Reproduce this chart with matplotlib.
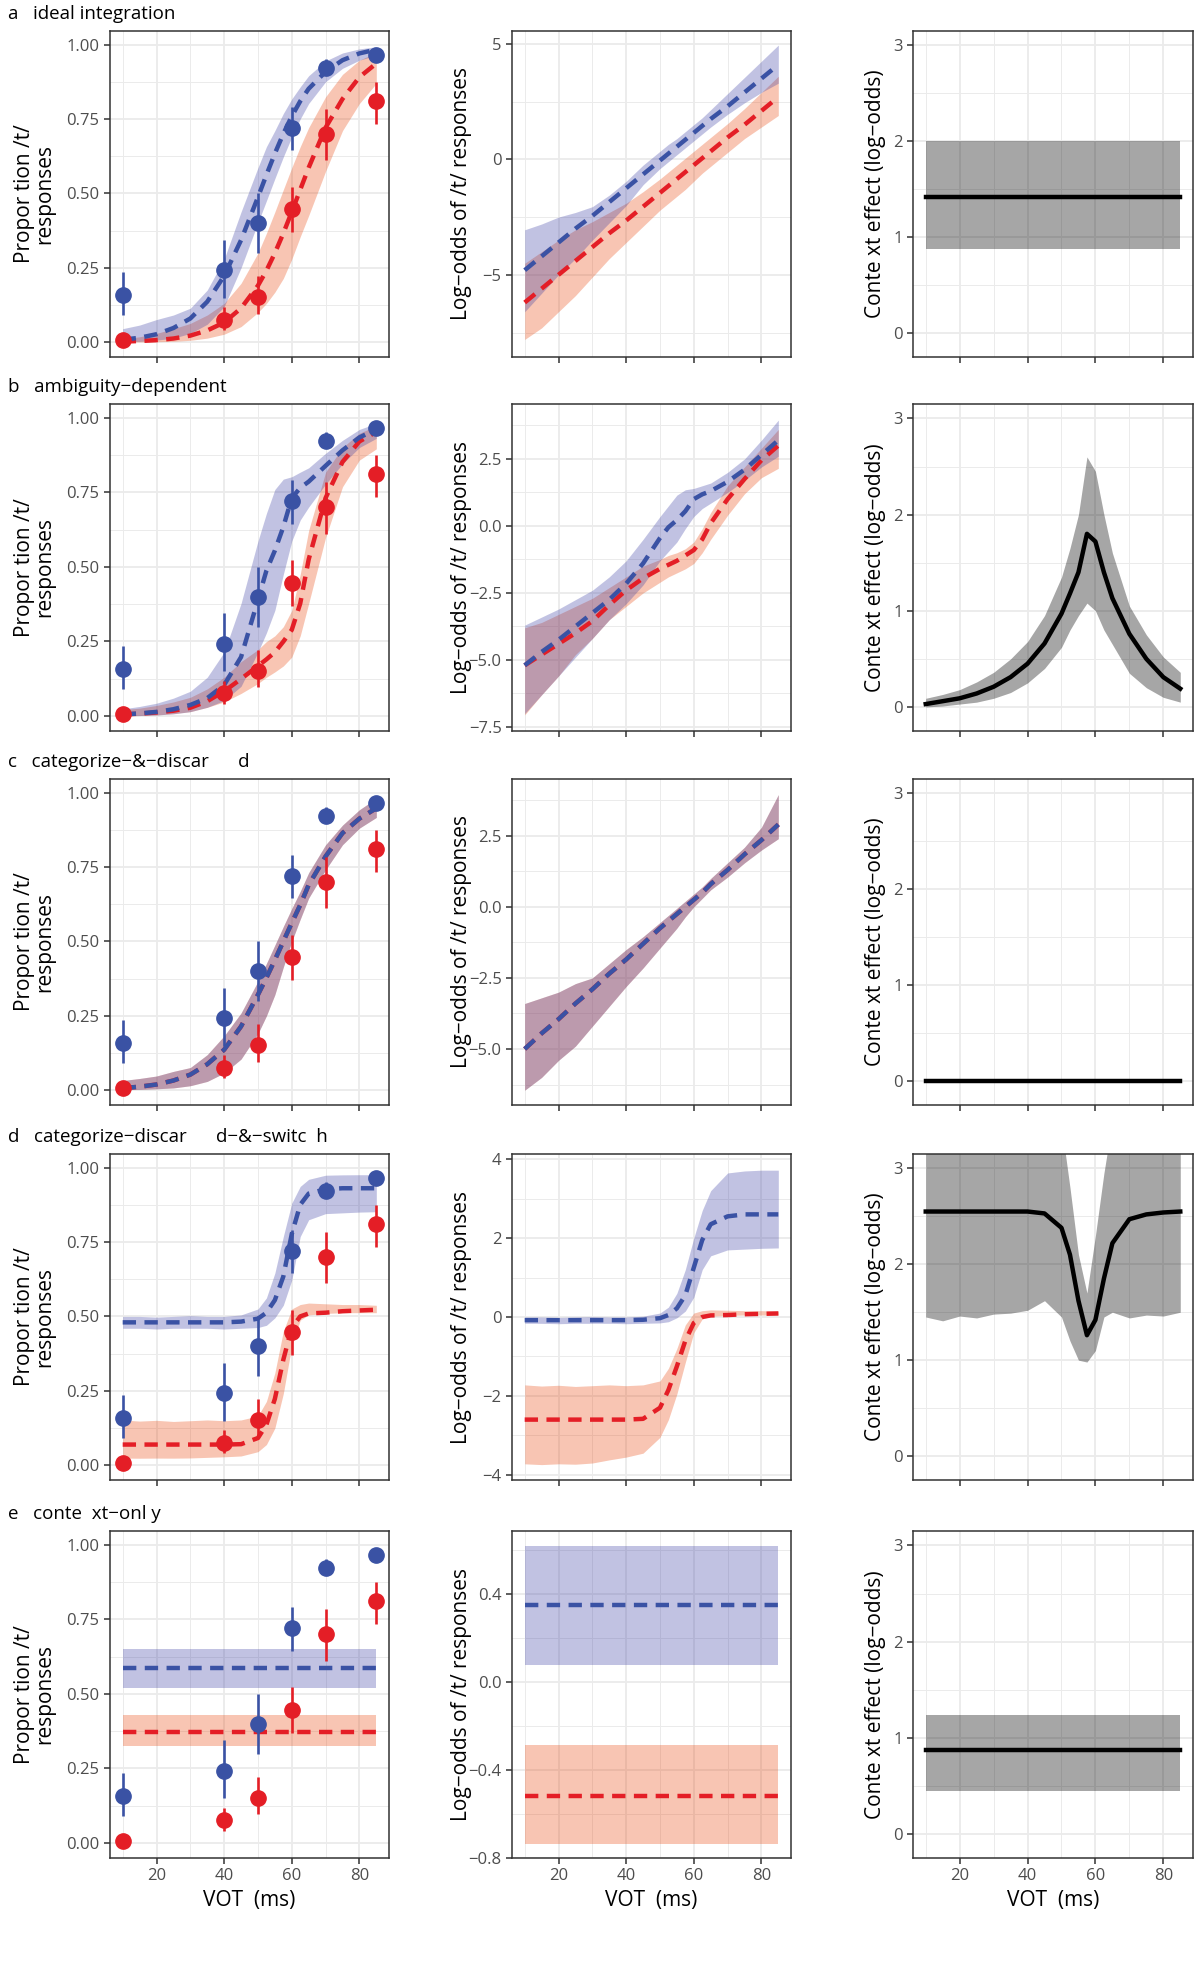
import numpy as np
import matplotlib.pyplot as plt
from matplotlib.ticker import AutoMinorLocator

plt.rcParams['font.family'] = ['Open Sans', 'DejaVu Sans']

# observed proportions of /t/ responses (same in every row)
obs_vot = [10, 40, 50, 60, 70, 85]
obs_blue = [0.158, 0.242, 0.40, 0.72, 0.922, 0.964]
obs_blue_lo = [0.091, 0.15, 0.30, 0.645, 0.897, 0.95]
obs_blue_hi = [0.236, 0.345, 0.50, 0.79, 0.953, 0.975]
obs_red = [0.007, 0.076, 0.152, 0.446, 0.70, 0.81]
obs_red_lo = [0.0, 0.04, 0.096, 0.37, 0.611, 0.735]
obs_red_hi = [0.014, 0.119, 0.222, 0.522, 0.785, 0.875]

vot_fine = [10, 15, 20, 25, 30, 35, 40, 45, 50, 52.5, 55, 57.5, 60, 62.5, 65, 70, 75, 80, 85]
vot_flat = [10, 85]

# a: ideal integration (log-odds)
a_blue = [-4.8, -4.2, -3.6, -3.0, -2.45, -1.85, -1.25, -0.65, -0.05, 0.25, 0.55, 0.85, 1.15, 1.45, 1.75, 2.3, 2.9, 3.5, 4.1]
a_blue_lo = [-6.6, -5.8, -5.0, -4.3, -3.5, -2.75, -2.0, -1.1, -0.4, -0.1, 0.2, 0.5, 0.8, 1.1, 1.4, 1.95, 2.45, 2.9, 3.3]
a_blue_hi = [-3.05, -2.8, -2.5, -2.3, -2.05, -1.55, -0.95, -0.25, 0.35, 0.65, 0.9, 1.2, 1.5, 1.8, 2.15, 2.85, 3.55, 4.25, 4.95]
a_red = [-6.2, -5.6, -5.0, -4.4, -3.8, -3.2, -2.65, -2.05, -1.45, -1.15, -0.85, -0.55, -0.25, 0.05, 0.35, 0.95, 1.5, 2.1, 2.7]
a_red_lo = [-7.8, -7.3, -6.6, -5.9, -5.1, -4.3, -3.6, -2.9, -2.2, -1.9, -1.6, -1.3, -0.95, -0.6, -0.3, 0.3, 0.9, 1.4, 1.9]
a_red_hi = [-4.5, -4.0, -3.5, -3.05, -2.7, -2.3, -1.9, -1.4, -0.85, -0.55, -0.25, 0.05, 0.35, 0.65, 0.95, 1.55, 2.2, 2.9, 3.6]
a_ctx = [1.42, 1.42]
a_ctx_lo = [0.88, 0.88]
a_ctx_hi = [2.0, 2.0]

# b: ambiguity-dependent
b_blue = [-5.2, -4.7, -4.25, -3.75, -3.25, -2.75, -2.15, -1.4, -0.45, -0.05, 0.22, 0.55, 1.0, 1.18, 1.3, 1.65, 2.1, 2.65, 3.2]
b_blue_lo = [-7.0, -6.3, -5.6, -4.9, -4.2, -3.5, -2.9, -2.2, -1.3, -0.95, -0.6, -0.1, 0.35, 0.65, 0.85, 1.25, 1.7, 2.2, 2.6]
b_blue_hi = [-3.7, -3.4, -3.1, -2.75, -2.4, -1.9, -1.3, -0.5, 0.35, 0.75, 1.15, 1.35, 1.4, 1.5, 1.6, 2.0, 2.5, 3.2, 3.95]
b_red = [-5.2, -4.8, -4.4, -4.0, -3.55, -2.95, -2.4, -1.95, -1.6, -1.45, -1.3, -1.1, -0.9, -0.5, 0.1, 1.0, 1.75, 2.45, 3.0]
b_red_lo = [-7.05, -6.3, -5.6, -4.8, -4.2, -3.5, -3.0, -2.5, -2.1, -1.9, -1.75, -1.6, -1.4, -1.0, -0.5, 0.4, 1.2, 1.8, 2.15]
b_red_hi = [-3.8, -3.6, -3.3, -3.0, -2.7, -2.3, -1.9, -1.5, -1.25, -1.1, -1.0, -0.85, -0.6, -0.1, 0.5, 1.5, 2.2, 2.9, 3.6]
b_ctx = [0.03, 0.06, 0.09, 0.14, 0.21, 0.31, 0.45, 0.66, 0.97, 1.18, 1.40, 1.80, 1.72, 1.40, 1.13, 0.76, 0.50, 0.31, 0.19]
b_ctx_lo = [0.0, 0.01, 0.03, 0.05, 0.09, 0.15, 0.25, 0.4, 0.62, 0.8, 0.95, 1.08, 1.0, 0.8, 0.65, 0.35, 0.2, 0.1, 0.05]
b_ctx_hi = [0.09, 0.13, 0.18, 0.26, 0.36, 0.5, 0.68, 0.95, 1.35, 1.65, 2.0, 2.6, 2.45, 2.0, 1.6, 1.05, 0.75, 0.52, 0.36]

# c: categorize-&-discard (both contexts identical)
c_both = [-5.0, -4.45, -3.95, -3.4, -2.9, -2.35, -1.85, -1.3, -0.75, -0.5, -0.25, 0.0, 0.25, 0.5, 0.8, 1.3, 1.85, 2.35, 2.9]
c_both_lo = [-6.45, -6.0, -5.4, -4.9, -4.2, -3.5, -2.8, -2.15, -1.45, -1.1, -0.75, -0.35, 0.0, 0.3, 0.6, 1.05, 1.55, 2.0, 2.4]
c_both_hi = [-3.4, -3.2, -3.0, -2.7, -2.5, -2.0, -1.5, -1.05, -0.55, -0.3, -0.05, 0.2, 0.45, 0.7, 1.0, 1.55, 2.1, 2.8, 3.95]
c_ctx = [0.0, 0.0]
c_ctx_lo = [0.0, 0.0]
c_ctx_hi = [0.0, 0.0]

# d: categorize-discard-&-switch
d_blue = [-0.08, -0.08, -0.08, -0.08, -0.08, -0.08, -0.08, -0.07, -0.03, 0.05, 0.22, 0.55, 1.25, 1.95, 2.35, 2.55, 2.6, 2.6, 2.6]
d_blue_lo = [-0.16, -0.16, -0.17, -0.16, -0.16, -0.16, -0.17, -0.16, -0.15, -0.12, -0.02, 0.15, 0.5, 1.2, 1.55, 1.7, 1.72, 1.74, 1.75]
d_blue_hi = [0.0, 0.0, -0.01, 0.0, 0.01, 0.0, 0.0, 0.02, 0.1, 0.25, 0.6, 1.2, 2.0, 2.7, 3.2, 3.65, 3.7, 3.72, 3.72]
d_red = [-2.6, -2.6, -2.6, -2.6, -2.6, -2.6, -2.6, -2.58, -2.3, -1.85, -1.25, -0.6, -0.15, 0.0, 0.04, 0.05, 0.07, 0.08, 0.09]
d_red_lo = [-3.72, -3.74, -3.72, -3.73, -3.70, -3.62, -3.55, -3.45, -3.05, -2.6, -1.95, -1.15, -0.4, -0.05, 0.02, 0.04, 0.05, 0.05, 0.05]
d_red_hi = [-1.72, -1.75, -1.73, -1.76, -1.74, -1.72, -1.74, -1.72, -1.62, -1.3, -0.8, -0.2, 0.1, 0.16, 0.18, 0.17, 0.16, 0.16, 0.15]
d_ctx = [2.55, 2.55, 2.55, 2.55, 2.55, 2.55, 2.55, 2.53, 2.38, 2.1, 1.62, 1.26, 1.42, 1.85, 2.22, 2.47, 2.52, 2.54, 2.55]
d_ctx_lo = [1.45, 1.41, 1.46, 1.44, 1.48, 1.49, 1.52, 1.62, 1.45, 1.2, 1.0, 0.98, 1.1, 1.45, 1.5, 1.44, 1.47, 1.46, 1.5]
d_ctx_hi = [3.6, 3.6, 3.6, 3.6, 3.6, 3.6, 3.6, 3.6, 3.45, 2.8, 2.1, 1.7, 2.3, 2.95, 3.5, 3.6, 3.6, 3.6, 3.6]

# e: context-only
e_blue = [0.35, 0.35]
e_blue_lo = [0.075, 0.075]
e_blue_hi = [0.62, 0.62]
e_red = [-0.52, -0.52]
e_red_lo = [-0.735, -0.735]
e_red_hi = [-0.285, -0.285]
e_ctx = [0.875, 0.875]
e_ctx_lo = [0.445, 0.445]
e_ctx_hi = [1.24, 1.24]

titles = ['a   ideal integration',
          'b   ambiguity\u2212dependent',
          'c   categorize\u2212&\u2212discar      d',
          'd   categorize\u2212discar      d\u2212&\u2212switc  h',
          'e   conte  xt\u2212onl y']

rows = [
    dict(vot=vot_fine, blue=(a_blue, a_blue_lo, a_blue_hi), red=(a_red, a_red_lo, a_red_hi),
         ctx_vot=vot_flat, ctx=(a_ctx, a_ctx_lo, a_ctx_hi), ylim=(-8.56, 5.56), yticks=[-5, 0, 5]),
    dict(vot=vot_fine, blue=(b_blue, b_blue_lo, b_blue_hi), red=(b_red, b_red_lo, b_red_hi),
         ctx_vot=vot_fine, ctx=(b_ctx, b_ctx_lo, b_ctx_hi), ylim=(-7.65, 4.55), yticks=[-7.5, -5, -2.5, 0, 2.5]),
    dict(vot=vot_fine, blue=(c_both, c_both_lo, c_both_hi), red=(c_both, c_both_lo, c_both_hi),
         ctx_vot=vot_flat, ctx=(c_ctx, c_ctx_lo, c_ctx_hi), ylim=(-6.97, 4.5), yticks=[-5, -2.5, 0, 2.5]),
    dict(vot=vot_fine, blue=(d_blue, d_blue_lo, d_blue_hi), red=(d_red, d_red_lo, d_red_hi),
         ctx_vot=vot_fine, ctx=(d_ctx, d_ctx_lo, d_ctx_hi), ylim=(-4.13, 4.13), yticks=[-4, -2, 0, 2, 4]),
    dict(vot=vot_flat, blue=(e_blue, e_blue_lo, e_blue_hi), red=(e_red, e_red_lo, e_red_hi),
         ctx_vot=vot_flat, ctx=(e_ctx, e_ctx_lo, e_ctx_hi), ylim=(-0.8, 0.686), yticks=[-0.8, -0.4, 0, 0.4]),
]

BLUE = '#3A52A4'
RED = '#E41E26'
BLUE_FILL = '#3437A2'
RED_FILL = '#E84105'


def logistic(x):
    return 1 / (1 + np.exp(-np.asarray(x, dtype=float)))


W, H = 1200, 1988
col_x = [(110, 389), (512, 791), (913, 1193)]
row_y = [(31, 357), (404, 731), (779, 1105), (1154, 1480), (1531, 1858)]

fig = plt.figure(figsize=(12, 19.88), dpi=100)


def make_ax(r, c):
    x0, x1 = col_x[c]
    y0, y1 = row_y[r]
    ax = fig.add_axes([x0 / W, 1 - y1 / H, (x1 - x0) / W, (y1 - y0) / H])
    ax.set_xlim(6.25, 88.75)
    ax.set_xticks([20, 40, 60, 80])
    ax.xaxis.set_minor_locator(AutoMinorLocator(2))
    ax.yaxis.set_minor_locator(AutoMinorLocator(2))
    ax.grid(True, which='major', color='#EBEBEB', lw=1.3)
    ax.grid(True, which='minor', color='#EBEBEB', lw=0.7)
    ax.set_axisbelow(True)
    ax.tick_params(which='major', length=4, width=1.1, color='#333333',
                   labelsize=12, labelcolor='#4D4D4D')
    ax.tick_params(which='minor', length=0)
    for s in ax.spines.values():
        s.set_color('#333333')
        s.set_linewidth(1.1)
    if r < 4:
        ax.tick_params(axis='x', labelbottom=False)
    else:
        ax.set_xlabel('VOT  (ms)', fontsize=15, labelpad=4)
    return ax


def draw_pair(ax, vot, blue, red, trans):
    ax.fill_between(vot, trans(red[1]), trans(red[2]), color=RED_FILL, alpha=0.3, lw=0)
    ax.fill_between(vot, trans(blue[1]), trans(blue[2]), color=BLUE_FILL, alpha=0.3, lw=0)
    ax.plot(vot, trans(red[0]), color=RED, lw=3.2, dashes=(3, 1.9))
    ax.plot(vot, trans(blue[0]), color=BLUE, lw=3.2, dashes=(3, 1.9))


for r, row in enumerate(rows):
    y0 = row_y[r][0]
    fig.text(8 / W, 1 - (y0 - 17) / H, titles[r], ha='left', va='center', fontsize=13.5)

    # proportion panel
    ax = make_ax(r, 0)
    draw_pair(ax, row['vot'], row['blue'], row['red'], logistic)
    for m, lo, hi, col in [(obs_blue, obs_blue_lo, obs_blue_hi, BLUE),
                           (obs_red, obs_red_lo, obs_red_hi, RED)]:
        m = np.array(m)
        ax.errorbar(obs_vot, m, yerr=[m - np.array(lo), np.array(hi) - m], fmt='o',
                    color=col, ms=11, elinewidth=1.9, capsize=0, zorder=5)
    ax.set_ylim(-0.05, 1.046)
    ax.set_yticks([0, 0.25, 0.5, 0.75, 1.0])
    ax.set_ylabel('Propor tion /t/\nresponses', fontsize=15, linespacing=0.95)
    ax.yaxis.set_label_coords(-0.27, 0.5)
    ax.yaxis.label.set_va('center')

    # log-odds panel
    ax = make_ax(r, 1)
    draw_pair(ax, row['vot'], row['blue'], row['red'], lambda v: np.asarray(v, dtype=float))
    ax.set_ylim(*row['ylim'])
    ax.set_yticks(row['yticks'])
    ax.set_ylabel('Log\u2212odds of /t/ responses', fontsize=15)
    ax.yaxis.set_label_coords(-0.18, 0.5)
    ax.yaxis.label.set_va('center')

    # context effect panel
    ax = make_ax(r, 2)
    m, lo, hi = row['ctx']
    ax.fill_between(row['ctx_vot'], lo, hi, color='black', alpha=0.35, lw=0)
    ax.plot(row['ctx_vot'], m, color='black', lw=3.2)
    ax.set_ylim(-0.25, 3.15)
    ax.set_yticks([0, 1, 2, 3])
    ax.set_ylabel('Conte xt effect (log\u2212odds)', fontsize=15)
    ax.yaxis.set_label_coords(-0.135, 0.5)
    ax.yaxis.label.set_va('center')

fig.savefig('out.png', dpi=100)
